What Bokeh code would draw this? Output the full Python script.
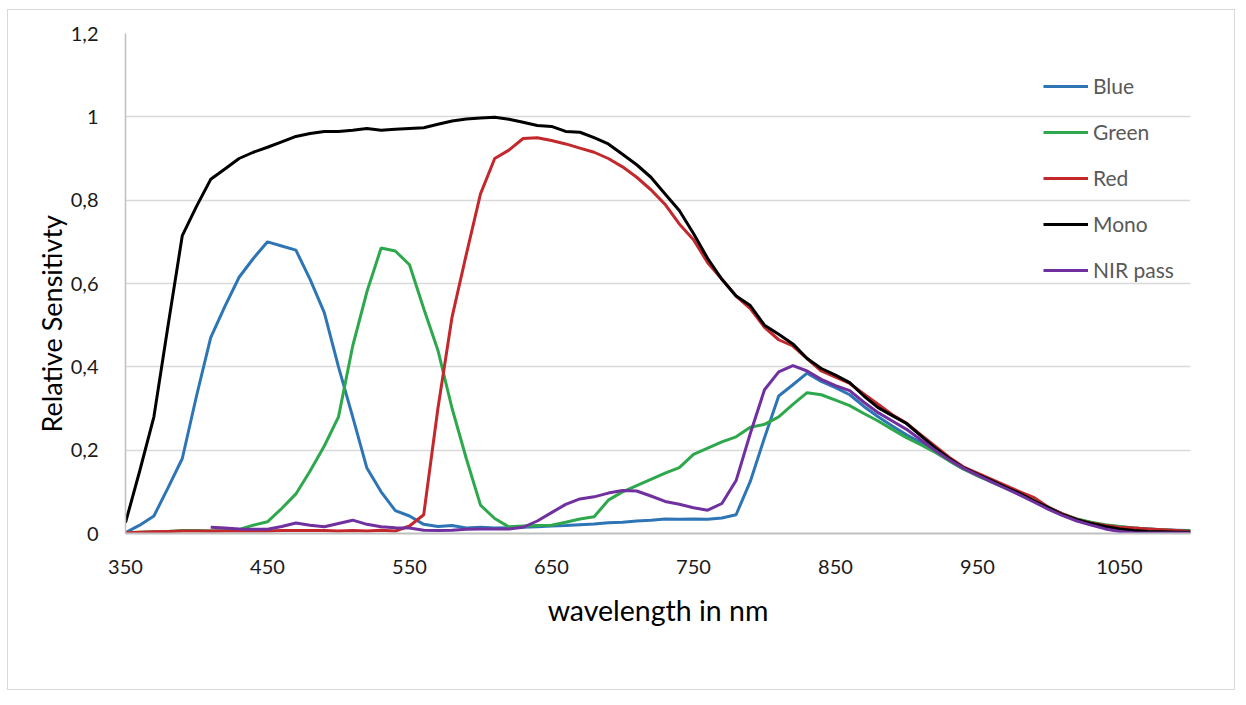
from bokeh.plotting import figure
from bokeh.models import (Range1d, FixedTicker, CustomJSTickFormatter, Legend,
                          LegendItem, Title)
from bokeh.embed import file_html
from bokeh.resources import INLINE

# ---- data ----
wavelength = list(range(350, 1101, 10))
nir_wavelength = list(range(410, 1101, 10))

blue = [0.002, 0.02, 0.042, 0.11, 0.18,
        0.33, 0.47, 0.545, 0.615, 0.66, 0.70, 0.69, 0.68, 0.61, 0.53,
        0.40, 0.28, 0.157, 0.10, 0.055, 0.042, 0.022, 0.017, 0.019, 0.013,
        0.015, 0.013, 0.014, 0.015, 0.016, 0.018, 0.019, 0.021, 0.023, 0.026,
        0.027, 0.03, 0.032, 0.035, 0.034, 0.035, 0.034, 0.037, 0.045, 0.125,
        0.23, 0.33, 0.357, 0.385, 0.365, 0.35, 0.333, 0.305, 0.28, 0.258,
        0.237, 0.218, 0.198, 0.175, 0.155, 0.14, 0.125, 0.11, 0.095, 0.078,
        0.062, 0.046, 0.034, 0.026, 0.02, 0.016, 0.013, 0.011, 0.009, 0.008,
        0.007]

green = [0.002, 0.003, 0.004, 0.005, 0.007,
         0.007, 0.006, 0.007, 0.01, 0.02, 0.028, 0.06, 0.095, 0.15, 0.21,
         0.28, 0.45, 0.58, 0.685, 0.678, 0.645, 0.54, 0.44, 0.30, 0.18,
         0.068, 0.036, 0.016, 0.018, 0.019, 0.02, 0.027, 0.035, 0.04, 0.08,
         0.10, 0.115, 0.13, 0.145, 0.158, 0.19, 0.205, 0.22, 0.232, 0.255,
         0.262, 0.28, 0.31, 0.338, 0.333, 0.32, 0.307, 0.288, 0.27, 0.25,
         0.23, 0.213, 0.195, 0.175, 0.155, 0.138, 0.123, 0.108, 0.093, 0.077,
         0.062, 0.047, 0.035, 0.027, 0.021, 0.017, 0.013, 0.011, 0.009, 0.007,
         0.006]

red = [0.002, 0.003, 0.004, 0.005, 0.006,
       0.006, 0.006, 0.006, 0.006, 0.006, 0.006, 0.007, 0.007, 0.007, 0.007,
       0.006, 0.007, 0.006, 0.008, 0.006, 0.018, 0.045, 0.30, 0.52, 0.67,
       0.815, 0.90, 0.92, 0.948, 0.95, 0.943, 0.935, 0.925, 0.915, 0.90,
       0.88, 0.855, 0.825, 0.79, 0.743, 0.705, 0.65, 0.61, 0.57, 0.54,
       0.495, 0.465, 0.45, 0.42, 0.39, 0.375, 0.36, 0.335, 0.31, 0.285,
       0.265, 0.237, 0.21, 0.183, 0.16, 0.145, 0.13, 0.115, 0.1, 0.086,
       0.063, 0.047, 0.034, 0.025, 0.019, 0.015, 0.013, 0.011, 0.009, 0.007,
       0.005]

mono = [0.026, 0.15, 0.28, 0.50, 0.715,
        0.785, 0.85, 0.875, 0.90, 0.915, 0.927, 0.94, 0.953, 0.96, 0.965,
        0.965, 0.968, 0.972, 0.968, 0.970, 0.972, 0.974, 0.982, 0.99, 0.995,
        0.997, 0.999, 0.994, 0.987, 0.979, 0.977, 0.965, 0.963, 0.95, 0.935,
        0.91, 0.885, 0.855, 0.815, 0.775, 0.72, 0.66, 0.61, 0.57, 0.547,
        0.50, 0.478, 0.455, 0.42, 0.396, 0.38, 0.362, 0.33, 0.302, 0.283,
        0.264, 0.235, 0.206, 0.18, 0.158, 0.142, 0.127, 0.111, 0.096, 0.078,
        0.062, 0.045, 0.033, 0.024, 0.017, 0.011, 0.007, 0.005, 0.004, 0.003,
        0.003]

nir_pass = [0.015, 0.013, 0.011, 0.01, 0.01, 0.017, 0.025, 0.02, 0.016,
            0.024, 0.032, 0.022, 0.016, 0.014, 0.013, 0.008, 0.007, 0.008, 0.01,
            0.011, 0.011, 0.011, 0.015, 0.03, 0.05, 0.07, 0.083, 0.088, 0.097,
            0.103, 0.102, 0.09, 0.077, 0.07, 0.062, 0.056, 0.072, 0.127, 0.24,
            0.345, 0.388, 0.403, 0.39, 0.37, 0.355, 0.343, 0.315, 0.29, 0.27,
            0.25, 0.225, 0.2, 0.177, 0.157, 0.14, 0.124, 0.108, 0.092, 0.075,
            0.058, 0.043, 0.03, 0.02, 0.011, 0.005, 0.002, 0.001, 0.001, 0.001,
            0.001]

x_ticks = [350, 450, 550, 650, 750, 850, 950, 1050]
y_ticks = [0, 0.2, 0.4, 0.6, 0.8, 1.0, 1.2]

series_names = ["Blue", "Green", "Red", "Mono", "NIR pass"]
series_colors = ["#2e75b6", "#2ea84c", "#c3282d", "#000000", "#7030a0"]

FONT = "Lato"

p = figure(width=1228, height=681, output_backend="svg", toolbar_location=None,
           x_range=Range1d(350, 1100), y_range=Range1d(0, 1.2),
           min_border_left=117, min_border_right=46, min_border_top=23,
           min_border_bottom=158, background_fill_color="white",
           border_fill_color="white", outline_line_color=None,
           styles={"border": "1px solid #d9d9d9", "margin-left": "7px",
                   "margin-top": "9px"})

# grid
p.xgrid.grid_line_color = None
p.ygrid.grid_line_color = "#d9d9d9"
p.ygrid.grid_line_width = 1.5
p.ygrid.ticker = FixedTicker(ticks=y_ticks)

# x axis
p.xaxis.ticker = FixedTicker(ticks=x_ticks)
p.xaxis.axis_line_color = "#bfbfbf"
p.xaxis.axis_line_width = 2
p.xaxis.major_tick_line_color = None
p.xaxis.minor_tick_line_color = None
p.xaxis.major_label_standoff = 20
p.xaxis.major_label_text_font = FONT
p.xaxis.major_label_text_font_size = "20px"
p.xaxis.major_label_text_color = "#1a1a1a"
p.xaxis.axis_label = "wavelength in nm"
p.xaxis.axis_label_text_font = FONT
p.xaxis.axis_label_text_font_size = "28.5px"
p.xaxis.axis_label_text_font_style = "normal"
p.xaxis.axis_label_text_color = "#000000"
p.xaxis.axis_label_standoff = 16

# y axis
p.yaxis.ticker = FixedTicker(ticks=y_ticks)
p.yaxis.formatter = CustomJSTickFormatter(
    code="var v = Math.round(tick*10)/10; return v.toString().replace('.', ',');")
p.yaxis.axis_line_color = "#bfbfbf"
p.yaxis.axis_line_width = 1.5
p.yaxis.major_tick_line_color = None
p.yaxis.minor_tick_line_color = None
p.yaxis.major_label_standoff = 21
p.yaxis.major_label_text_font = FONT
p.yaxis.major_label_text_font_size = "20px"
p.yaxis.major_label_text_color = "#1a1a1a"

# y axis title, set slightly below the frame centre as in the reference
ytitle = Title(text="Relative Sensitivty", align="left", offset=101,
               text_font=FONT, text_font_size="27px",
               text_font_style="normal", text_color="#000000", standoff=0)
p.add_layout(ytitle, "left")

xs = [wavelength, wavelength, wavelength, wavelength, nir_wavelength]
ys = [blue, green, red, mono, nir_pass]
items = []
for name, color, xv, yv in zip(series_names, series_colors, xs, ys):
    r = p.line(xv, yv, line_color=color, line_width=3)
    items.append(LegendItem(label=name, renderers=[r]))

legend = Legend(items=items, location=(918, 251), orientation="vertical",
                glyph_width=45, glyph_height=20, label_height=20,
                spacing=21, padding=0, margin=0, label_standoff=5,
                label_text_font=FONT, label_text_font_size="21px",
                label_text_color="#595959",
                background_fill_alpha=0, border_line_alpha=0)
p.add_layout(legend)

open("out.html", "w").write(file_html(p, INLINE))
